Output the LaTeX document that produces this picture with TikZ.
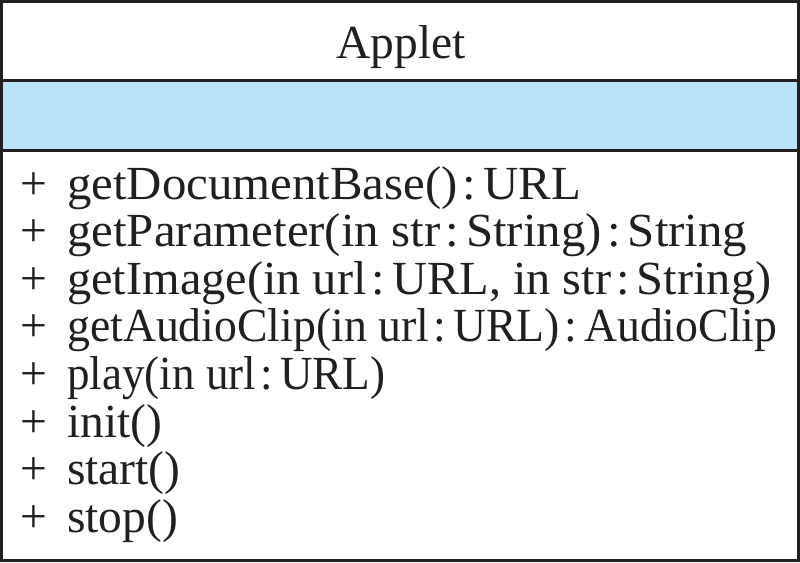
\documentclass[tikz,border=0pt]{standalone}
\usepackage{fontspec}
\usepackage{graphicx}
\setmainfont{Liberation Serif}
\definecolor{attrblue}{RGB}{185,228,248}
\definecolor{umlline}{RGB}{35,31,32}
\newcommand\cln{\kern5pt:\kern7pt}
\newcommand\fitw[2]{\resizebox{#1}{\height}{#2}}
\begin{document}
\begin{tikzpicture}[x=1pt,y=-1pt,
  txt/.style={inner sep=0pt,anchor=base west,font=\fontsize{47.5}{50}\selectfont,text=umlline,
              text height=32pt,text depth=8pt},
  frame/.style={draw=umlline,line width=3pt}]
\useasboundingbox (0,0) rectangle (800,562);
\fill[attrblue] (1.5,80.5) rectangle (798.5,150.5);
\draw[frame] (1.5,1.5) rectangle (798.5,560.5);
\draw[frame] (1.5,80.5) -- (798.5,80.5);
\draw[frame] (1.5,150.5) -- (798.5,150.5);
\node[txt,anchor=base] (name) at (401,58) {Applet};
\foreach \i/\t in {0/{\fitw{514pt}{getDocumentBase()\cln URL}},
                   1/{\fitw{680pt}{getParameter(in str\cln String)\cln String}},
                   2/{\fitw{704pt}{getImage(in url\cln URL, in str\cln String)}},
                   3/{\fitw{710pt}{getAudioClip(in url\cln URL)\cln AudioClip}},
                   4/{\fitw{318pt}{play(in url\cln URL)}},
                   5/{init()},
                   6/{start()},
                   7/{stop()}}{
  \node[txt,text height=24pt,text depth=0pt] (p\i) at (20,199+47.6*\i) {+};
  \node[txt] (m\i) at (67,199+47.6*\i) {\t};
}
\end{tikzpicture}
\end{document}
